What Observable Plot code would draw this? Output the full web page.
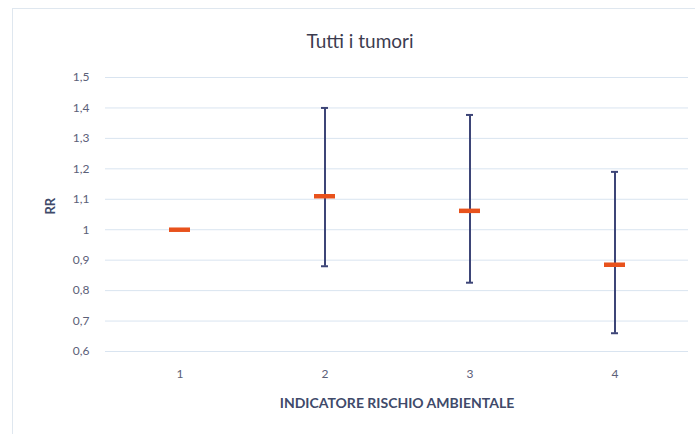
<!DOCTYPE html>
<html>
<head>
<meta charset="utf-8">
<script src="https://cdn.jsdelivr.net/npm/d3@7"></script>
<script src="https://cdn.jsdelivr.net/npm/@observablehq/plot@0.6"></script>
<style>
  html, body { margin: 0; padding: 0; background: #fff; }
  #wrap { position: relative; width: 695px; height: 434px; overflow: hidden; font-family: Lato, "Open Sans", sans-serif; }
  #frame { position: absolute; left: 12px; top: 8px; width: 700px; height: 440px; border-left: 1px solid #dfe7ef; border-top: 1px solid #dfe7ef; }
  #title { position: absolute; left: 0; top: 0; width: 720px; height: 60px; line-height: 82px; text-align: center; font-size: 19px; color: #3c3c50; }
  #chart { position: absolute; left: 0; top: 60px; }
</style>
</head>
<body>
<div id="wrap">
  <div id="frame"></div>
  <div id="title">Tutti i tumori</div>
  <div id="chart"></div>
</div>
<script>
const categories = ["1", "2", "3", "4"];
const rr = [1.0, 1.11, 1.062, 0.885];
const lower = [null, 0.88, 0.826, 0.66];
const upper = [null, 1.40, 1.377, 1.19];
const yTicks = [0.6, 0.7, 0.8, 0.9, 1.0, 1.1, 1.2, 1.3, 1.4, 1.5];

const data = categories.map((c, i) => ({cat: c, rr: rr[i], lo: lower[i], hi: upper[i]}));
const bars = data.filter(d => d.lo != null);
const fmt = d => String(+d.toFixed(1)).replace(".", ",");

const chart = Plot.plot({
  width: 695,
  height: 374,
  marginTop: 17,
  marginBottom: 83,
  marginLeft: 105,
  marginRight: 7,
  style: {fontFamily: "Lato, 'Open Sans', sans-serif", background: "transparent"},
  x: {domain: categories, padding: 0, label: null},
  y: {domain: [0.6, 1.5], label: null},
  marks: [
    Plot.ruleY(yTicks, {stroke: "#d9e4f0", strokeWidth: 1}),
    Plot.axisY({ticks: yTicks, tickFormat: fmt, tickSize: 0, tickPadding: 16, fontSize: 12, color: "#5b6078", label: null}),
    Plot.axisX({tickSize: 0, tickPadding: 18, fontSize: 12, color: "#5b6078", label: null}),
    Plot.text(["RR"], {frameAnchor: "left", dx: -55, rotate: -90, fontSize: 13, fontWeight: "bold", fill: "#404a6a"}),
    Plot.text(["INDICATORE RISCHIO AMBIENTALE"], {frameAnchor: "bottom", dy: 56, fontSize: 14, fontWeight: "bold", fill: "#404a6a"}),
    Plot.ruleX(bars, {x: "cat", y1: "lo", y2: "hi", stroke: "#3d4577", strokeWidth: 2}),
    Plot.tickY(bars, {x: "cat", y: "lo", stroke: "#3d4577", strokeWidth: 2, insetLeft: 69, insetRight: 69}),
    Plot.tickY(bars, {x: "cat", y: "hi", stroke: "#3d4577", strokeWidth: 2, insetLeft: 69, insetRight: 69}),
    Plot.tickY(data, {x: "cat", y: "rr", stroke: "#e8521c", strokeWidth: 4.5, insetLeft: 62, insetRight: 62})
  ]
});
document.getElementById("chart").appendChild(chart);
</script>
</body>
</html>
